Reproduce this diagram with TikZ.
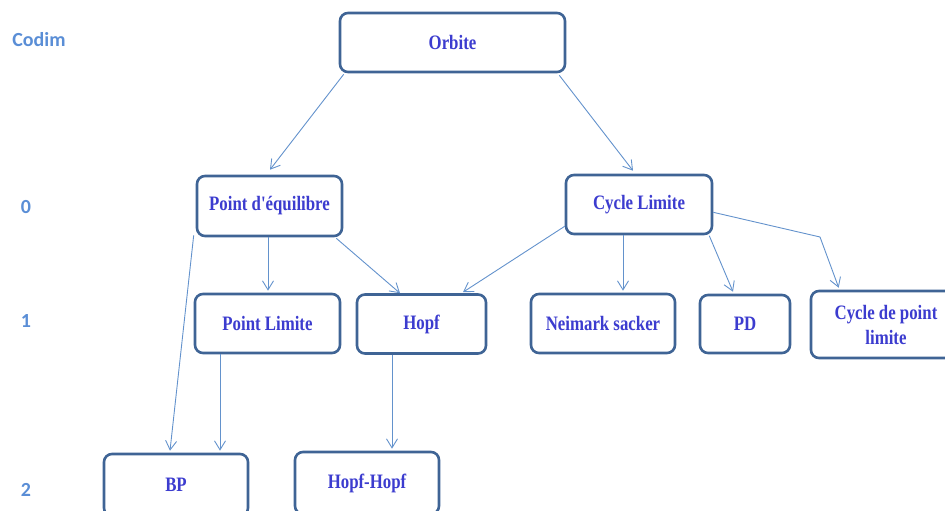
\documentclass[tikz,border=0pt]{standalone}
\usepackage{fontspec}
\newfontfamily\boxfont{Liberation Serif}[FakeStretch=0.82]
\newfontfamily\codimfont{Carlito}
\usetikzlibrary{arrows.meta}
\definecolor{boxborder}{HTML}{3F6495}
\definecolor{boxtext}{HTML}{3C3CCF}
\definecolor{arrowcol}{HTML}{6392CC}
\definecolor{codimcol}{HTML}{5A8ED6}
\tikzset{
  boxnode/.style={draw=boxborder, line width=2.6pt, rounded corners=8pt, fill=white,
    font=\boxfont\fontsize{20.5}{21}\selectfont\bfseries, text=boxtext, inner sep=0pt, align=center},
  conn/.style={draw=arrowcol, line width=0.9pt, -{Straight Barb[length=9pt,width=11pt,line width=0.9pt]}},
  codim/.style={font=\codimfont\fontsize{20}{20}\selectfont\bfseries, text=codimcol, inner sep=0pt}
}
\begin{document}
\begin{tikzpicture}[x=1pt,y=-1pt]
\useasboundingbox (0,0) rectangle (945,511);
\clip (0,0) rectangle (945,511);
% codim labels
\node[codim] (lcodim) at (39,40) {Codim};
\node[codim] (l0) at (26,207) {0};
\node[codim] (l1) at (26,321) {1};
\node[codim] (l2) at (26,490) {2};
% boxes
\node[boxnode, minimum width=225pt, minimum height=59pt] (orb) at (452.5,42.5) {Orbite};
\node[boxnode, minimum width=145pt, minimum height=60pt] (pe) at (269.5,206) {Point d'équilibre};
\node[boxnode, minimum width=146pt, minimum height=59pt] (cl) at (639,204.5) {Cycle Limite};
\node[boxnode, minimum width=145pt, minimum height=59pt] (pl) at (267.5,323.5) {Point Limite};
\node[boxnode, minimum width=129pt, minimum height=59pt] (hopf) at (421.5,324) {Hopf};
\node[boxnode, minimum width=144pt, minimum height=59pt] (ns) at (603,323.5) {Neimark sacker};
\node[boxnode, minimum width=90pt, minimum height=58pt] (pd) at (745,324) {PD};
\node[boxnode, minimum width=150pt, minimum height=67pt, font=\boxfont\fontsize{20.5}{25}\selectfont\bfseries] (cpl) at (886,324.5) {Cycle de point\\limite};
\node[boxnode, minimum width=144pt, minimum height=62pt] (bp) at (176,485) {BP};
\node[boxnode, minimum width=144pt, minimum height=62pt] (hh) at (367,483) {Hopf-Hopf};
% connectors
\coordinate (c1) at (820,237);
\draw[conn] ([xshift=5pt,yshift=-1pt]orb.south west) -- ([xshift=0.5pt,yshift=5pt]pe.north);
\draw[conn] ([xshift=-7pt,yshift=-2pt]orb.south east) -- ([xshift=-6pt,yshift=3pt]cl.north);
\draw[conn] ([xshift=-1.5pt]pe.south) -- ([xshift=0.5pt,yshift=2pt]pl.north);
\draw[conn] ([xshift=-7pt,yshift=-1pt]pe.south east) -- ([xshift=-21.5pt,yshift=0pt]hopf.north);
\draw[conn] ([xshift=-2pt,yshift=2pt]pe.south west) -- ([xshift=-6pt,yshift=2pt]bp.north);
\draw[conn] ([yshift=9pt]cl.south west) -- ([xshift=41.5pt,yshift=1pt]hopf.north);
\draw[conn] ([xshift=-16pt]cl.south) -- ([xshift=20pt,yshift=2pt]ns.north);
\draw[conn] ([xshift=-4pt,yshift=-0.5pt]cl.south east) -- ([xshift=-12pt,yshift=2pt]pd.north);
\draw[conn] ([yshift=23pt]cl.south east) -- (c1) -- ([xshift=29pt,yshift=2pt]cpl.north west);
\draw[conn] ([xshift=-47.5pt]pl.south) -- ([xshift=44pt,yshift=2pt]bp.north);
\draw[conn] ([xshift=-29.5pt]hopf.south) -- ([xshift=25pt,yshift=2pt]hh.north);
\end{tikzpicture}
\end{document}
